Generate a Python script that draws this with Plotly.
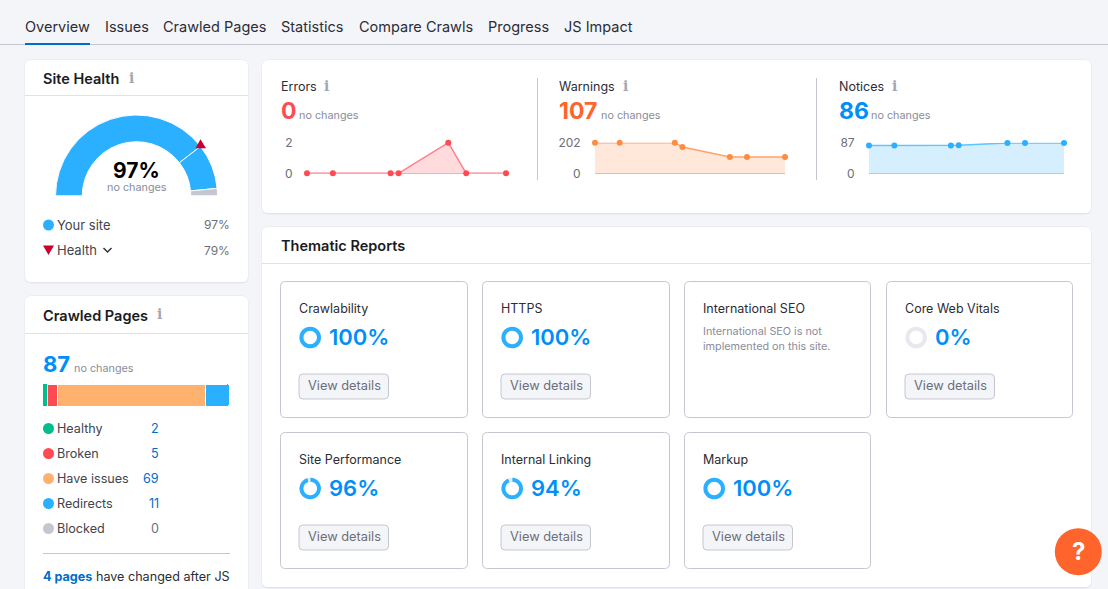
import math
import plotly.graph_objects as go

W, H = 1108, 589
FONT = "Inter"
DARK = "#2b2d36"
LABEL = "#42444f"
GRAY = "#6c6e79"
LIGHT = "#8a8c99"
BLUE = "#2bb0ff"
LINK = "#006dca"
BIG_BLUE = "#008ff8"
BORDER = "#c4c7cf"

# Data
tabs = ["Overview", "Issues", "Crawled Pages", "Statistics", "Compare Crawls", "Progress", "JS Impact"]
tab_x = [25, 105, 163, 281, 359, 488, 564]

site_health = 97
health_benchmark = 79

crawl_x = [0, 13, 42, 46, 71, 80, 100]
errors = [0, 0, 0, 0, 2, 0, 0]
warnings = [202, 202, 202, 173, 107, 107, 107]
notices = [79, 79, 79, 80, 86, 86, 86]

page_labels = ["Healthy", "Broken", "Have issues", "Redirects", "Blocked"]
page_counts = [2, 5, 69, 11, 0]
page_colors = ["#00bf8c", "#ff4953", "#ffb26e", "#2bb0ff", "#c4c7cf"]

report_names = ["Crawlability", "HTTPS", "International SEO", "Core Web Vitals",
                "Site Performance", "Internal Linking", "Markup"]
report_scores = [100, 100, None, 0, 96, 94, 100]


def fx(x):
    return x / W


def fy(y):
    return 1 - y / H


def dom_x(a, b):
    return [fx(a), fx(b)]


def dom_y(top, bottom):
    return [fy(bottom), fy(top)]


shapes = []
annotations = []


def rounded(x0, y0, x1, y1, r):
    p = f"M{fx(x0 + r)},{fy(y0)} L{fx(x1 - r)},{fy(y0)} "
    p += f"Q{fx(x1)},{fy(y0)} {fx(x1)},{fy(y0 + r)} L{fx(x1)},{fy(y1 - r)} "
    p += f"Q{fx(x1)},{fy(y1)} {fx(x1 - r)},{fy(y1)} L{fx(x0 + r)},{fy(y1)} "
    p += f"Q{fx(x0)},{fy(y1)} {fx(x0)},{fy(y1 - r)} L{fx(x0)},{fy(y0 + r)} "
    p += f"Q{fx(x0)},{fy(y0)} {fx(x0 + r)},{fy(y0)} Z"
    return p


def box(x0, y0, x1, y1, r=6, fill="#ffffff", line=None, layer="below"):
    shapes.append(dict(type="path", path=rounded(x0, y0, x1, y1, r), xref="paper", yref="paper",
                       fillcolor=fill, line=dict(color=line or "rgba(0,0,0,0)", width=1 if line else 0),
                       layer=layer))


def card(x0, y0, x1, y1):
    box(x0 - 0.5, y0 - 0.5, x1 + 0.5, y1 + 1.5, r=7, fill="#e4e5ec")
    box(x0, y0, x1, y1, r=6)


def hline(x0, x1, y, color="#e0e1e9", width=1):
    shapes.append(dict(type="line", xref="paper", yref="paper", x0=fx(x0), x1=fx(x1), y0=fy(y), y1=fy(y),
                       line=dict(color=color, width=width), layer="below"))


def vline(x, y0, y1, color=BORDER):
    shapes.append(dict(type="line", xref="paper", yref="paper", x0=fx(x), x1=fx(x), y0=fy(y0), y1=fy(y1),
                       line=dict(color=color, width=1), layer="below"))


def dot(cx, cy, r, color, layer="below"):
    shapes.append(dict(type="circle", xref="paper", yref="paper", x0=fx(cx - r), x1=fx(cx + r),
                       y0=fy(cy - r), y1=fy(cy + r), fillcolor=color, line=dict(width=0), layer=layer))


def text(x, y, s, size=13, color=DARK, weight=400, anchor="left", family=FONT, style="normal"):
    annotations.append(dict(x=fx(x), y=fy(y), xref="paper", yref="paper", text=s, showarrow=False,
                            xanchor=anchor, yanchor="middle", borderpad=0, borderwidth=0,
                            font=dict(family=family, size=size, color=color, weight=weight, style=style)))


def info(x, y):
    text(x, y, "i", size=14, color="#a4a6b3", family="DejaVu Serif", anchor="center", weight=700)


# tabs
hline(0, W, 44.5, color=BORDER)
for name, x in zip(tabs, tab_x):
    text(x, 27, name, size=14.5, color=DARK)
hline(25, 90, 44, color=LINK, width=2)

# site health card
card(25, 60, 248, 282)
text(43, 78, "Site Health", size=14.5, color="#191b23", weight=600)
info(131, 78)
hline(25, 248, 95.5)
text(136.5, 171, f"{site_health}%", size=21, color="#000000", weight=700, anchor="center")
text(136.5, 187.5, "no changes", size=10.8, color=LIGHT, anchor="center")
dot(48.5, 225, 5.5, BLUE)
text(57, 225, "Your site", color=LABEL)
text(230.5, 225, f"{site_health}%", size=12, color=GRAY, anchor="right")
shapes.append(dict(type="path", xref="paper", yref="paper", fillcolor="#c9002e", line=dict(width=0), layer="below",
                   path=f"M{fx(43)},{fy(245.5)} L{fx(54)},{fy(245.5)} L{fx(48.5)},{fy(255)} Z"))
text(57, 250, "Health", color=LABEL)
shapes.append(dict(type="path", xref="paper", yref="paper", line=dict(color="#333333", width=1.5), layer="below",
                   path=f"M{fx(103.5)},{fy(248)} L{fx(107.5)},{fy(252)} L{fx(111.5)},{fy(248)}"))
text(230.5, 250, f"{health_benchmark}%", size=12, color=GRAY, anchor="right")

# crawled pages card runs past the bottom of the window
card(25, 296, 248, 640)
text(43, 315, "Crawled Pages", size=14.5, color="#191b23", weight=600)
info(159, 314)
hline(25, 248, 333.5)
text(43, 364, f"{sum(page_counts)}", size=22, color=BIG_BLUE, weight=700)
text(74, 368, "no changes", size=10.8, color=LIGHT)
for i, (label, n, col) in enumerate(zip(page_labels, page_counts, page_colors)):
    y = 428.5 + 25 * i
    dot(48.5, y, 5.5, col)
    text(57, y, label, size=12.6, color=LABEL)
    text(159, y, str(n), size=12.6, color=LINK if n else GRAY, anchor="right")
hline(43, 230, 553.5, color=BORDER)
text(43, 576, f"<b style='color:{LINK}'>4 pages</b> have changed after JS", size=12.6, color=DARK)

# issue summary card
card(262, 60, 1091, 213)
vline(537.5, 78, 180)
vline(816.5, 78, 180)
summary = [
    ("Errors", 281, 326, errors[-1], "#ff4953", 299),
    ("Warnings", 559, 625, warnings[-1], "#ff642d", 601),
    ("Notices", 839, 894, notices[-1], BIG_BLUE, 871),
]
for name, x, ix, val, col, nx in summary:
    text(x, 86, name, size=12.5, color=DARK)
    info(ix, 86)
    text(x, 111, str(val), size=23, color=col, weight=700)
    text(nx, 115.5, "no changes", size=10.8, color=LIGHT)

# thematic reports card
card(262, 227, 1091, 587)
text(281, 245, "Thematic Reports", size=14.5, color="#191b23", weight=600)
hline(262, 1091, 263.5)
tile_x = [(280.5, 467.5), (482.5, 669.5), (684.5, 870.5), (886.5, 1072.5),
          (280.5, 467.5), (482.5, 669.5), (684.5, 870.5)]
tile_y = [281.5] * 4 + [432.5] * 3

traces = []
for name, score, (x0, x1), y0 in zip(report_names, report_scores, tile_x, tile_y):
    box(x0, y0, x1, y0 + 136, r=5, line=BORDER)
    left = x0 + 19
    text(left - 0.7, y0 + 27, name, size=12.5, color=DARK)
    if score is None:
        text(left - 0.7, y0 + 50, "International SEO is not", size=10.8, color=LIGHT)
        text(left - 0.7, y0 + 65, "implemented on this site.", size=10.8, color=LIGHT)
        continue
    cx, cy = left + 10.7, y0 + 56
    traces.append(go.Pie(values=[score, 100 - score], hole=0.63, sort=False, direction="clockwise", rotation=0,
                         domain=dict(x=dom_x(cx - 10.8, cx + 10.8), y=dom_y(cy - 10.8, cy + 10.8)),
                         marker=dict(colors=[BLUE, "#e8e9ef"], line=dict(width=0)),
                         textinfo="none", hoverinfo="skip", showlegend=False))
    text(left + 29.5, cy - 0.7, f"{score}%", size=22, color=BIG_BLUE, weight=600)
    bx = left - 0.5
    box(bx, y0 + 92.5, bx + 89.5, y0 + 117.5, r=4, fill="#f4f5f9", line=BORDER)
    text(bx + 45.2, y0 + 104.3, "View details", size=12.8, color=GRAY, anchor="center")

# gauge: the lower half of the pie is left transparent
gauge_cx, gauge_cy, gauge_r = 136.5, 196, 81
traces.append(go.Pie(values=[health_benchmark, site_health - health_benchmark, 100 - site_health, 100],
                     hole=0.67, sort=False, direction="clockwise", rotation=270,
                     domain=dict(x=dom_x(gauge_cx - gauge_r, gauge_cx + gauge_r),
                                 y=dom_y(gauge_cy - gauge_r, gauge_cy + gauge_r)),
                     marker=dict(colors=[BLUE, BLUE, BORDER, "rgba(255,255,255,0)"],
                                 line=dict(color="#ffffff", width=1)),
                     textinfo="none", hoverinfo="skip", showlegend=False))
# benchmark needle sits on the outer rim of the gauge
angle = math.pi * health_benchmark / 100
nx = gauge_cx - gauge_r * math.cos(angle)
ny = gauge_cy - gauge_r * math.sin(angle) - 1.5

# sparklines
layout_axes = {}
spark = [
    (errors, 307, 506, 2, "#ff7f88", "#ff4953", "rgba(255,73,83,0.2)"),
    (warnings, 595, 785, 202, "#ffa26b", "#ff8c43", "rgba(255,140,67,0.2)"),
    (notices, 869, 1064, 87, "#5cc4ff", "#2bb0ff", "rgba(43,176,255,0.2)"),
]
for i, (vals, x0, x1, top, line_col, dot_col, fill_col) in enumerate(spark):
    n = i + 2
    traces.append(go.Scatter(x=crawl_x, y=vals, xaxis=f"x{n}", yaxis=f"y{n}", mode="lines+markers",
                             line=dict(color=line_col, width=1.5), marker=dict(color=dot_col, size=6),
                             fill="tozeroy", fillcolor=fill_col, cliponaxis=False,
                             hoverinfo="skip", showlegend=False))
    layout_axes[f"xaxis{n}"] = dict(domain=dom_x(x0, x1), range=[0, 100], visible=False, anchor=f"y{n}")
    layout_axes[f"yaxis{n}"] = dict(domain=dom_y(142.7, 173.3), range=[0, top], anchor=f"x{n}",
                                    tickmode="array", tickvals=[0, top], ticktext=["0", str(top)],
                                    ticks="outside", ticklen=11, tickcolor="rgba(0,0,0,0)",
                                    tickfont=dict(family=FONT, size=12, color=GRAY),
                                    showgrid=True, gridcolor="#eeeff4", gridwidth=1,
                                    zeroline=True, zerolinecolor=BORDER, zerolinewidth=1, showline=False)

# crawled pages stacked bar
for label, n, col in zip(page_labels, page_counts, page_colors):
    traces.append(go.Bar(x=[n], y=["pages"], orientation="h", xaxis="x5", yaxis="y5",
                         marker=dict(color=col, line=dict(color="#ffffff", width=0 if label == "Healthy" else 1)),
                         hoverinfo="skip", showlegend=False))
layout_axes["xaxis5"] = dict(domain=dom_x(43, 229), range=[0, sum(page_counts)], visible=False, anchor="y5")
layout_axes["yaxis5"] = dict(domain=dom_y(384, 406), visible=False, anchor="x5")

fig = go.Figure(traces)
fig.update_layout(
    width=W, height=H, autosize=False, margin=dict(l=0, r=0, t=0, b=0, pad=0, autoexpand=False),
    paper_bgcolor="#f4f5f9", plot_bgcolor="rgba(0,0,0,0)",
    barmode="stack", bargap=0, barcornerradius=2,
    shapes=shapes, annotations=annotations, showlegend=False,
    font=dict(family=FONT),
    **layout_axes,
)

# needle and help button float over the traces
fig.add_shape(type="path", xref="paper", yref="paper", fillcolor="#c9002e", line=dict(width=0), layer="above",
              path=f"M{fx(nx - 5)},{fy(ny + 3.5)} L{fx(nx + 5.5)},{fy(ny + 3.5)} L{fx(nx)},{fy(ny - 5.5)} Z")
fig.add_shape(type="circle", xref="paper", yref="paper", x0=fx(1054.8), x1=fx(1101.8), y0=fy(528.2), y1=fy(575.2),
              fillcolor="#ff642d", line=dict(width=0), layer="above")
fig.add_annotation(x=fx(1078.3), y=fy(551.7), xref="paper", yref="paper", text="?", showarrow=False,
                   xanchor="center", yanchor="middle", font=dict(family=FONT, size=24, color="#ffffff", weight=700))

fig.write_html("out.html", config=dict(displayModeBar=False, staticPlot=True),
               post_script="document.body.style.margin='0';document.body.style.overflow='hidden';")
